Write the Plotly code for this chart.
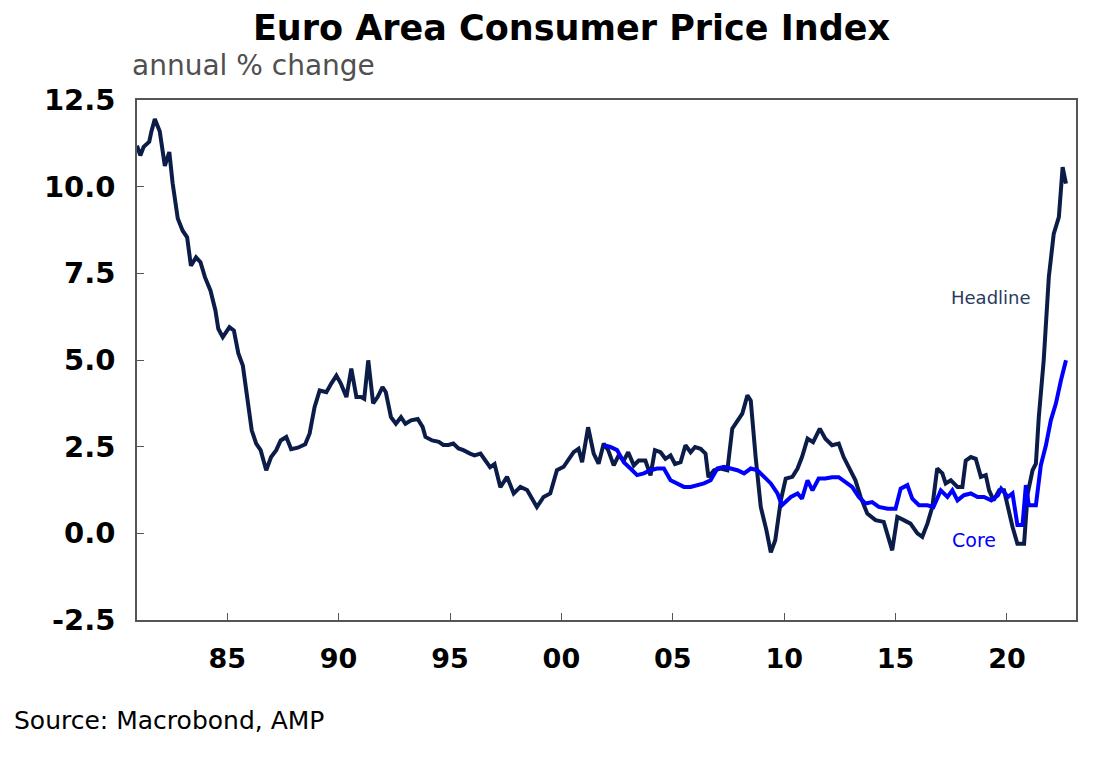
import plotly.graph_objects as go

# Euro area CPI, annual % change
head_t = [1980.95, 1981.1, 1981.25, 1981.5, 1981.6, 1981.75, 1981.97, 1982.2, 1982.4, 1982.55,
          1982.78, 1983.0, 1983.2, 1983.37, 1983.6, 1983.8, 1984.0, 1984.25, 1984.47, 1984.6,
          1984.8, 1985.1, 1985.3, 1985.5, 1985.7, 1985.95, 1986.1, 1986.3, 1986.5, 1986.75,
          1986.97, 1987.2, 1987.4, 1987.65, 1987.87, 1988.17, 1988.5, 1988.7, 1988.92, 1989.15,
          1989.45, 1989.67, 1989.9, 1990.1, 1990.35, 1990.57, 1990.8, 1991.0, 1991.15, 1991.33,
          1991.55, 1991.75, 1991.97, 1992.12, 1992.35, 1992.57, 1992.8, 1993.0, 1993.25, 1993.55,
          1993.77, 1993.9, 1994.2, 1994.5, 1994.7, 1994.93, 1995.15, 1995.38, 1995.6, 1995.9,
          1996.1, 1996.37, 1996.8, 1997.0, 1997.26, 1997.56, 1997.86, 1998.16, 1998.46, 1998.9,
          1999.2, 1999.5, 1999.8, 2000.1, 2000.3, 2000.55, 2000.77, 2000.93, 2001.2, 2001.45,
          2001.67, 2001.9, 2002.1, 2002.35, 2002.57, 2002.8, 2003.0, 2003.25, 2003.47, 2003.77,
          2004.0, 2004.2, 2004.45, 2004.67, 2004.9, 2005.1, 2005.35, 2005.57, 2005.8, 2006.0,
          2006.25, 2006.47, 2006.6, 2006.85, 2007.15, 2007.45, 2007.67, 2007.9, 2008.12, 2008.35,
          2008.5, 2008.72, 2008.95, 2009.2, 2009.4, 2009.6, 2009.85, 2010.07, 2010.37, 2010.6,
          2010.8, 2011.05, 2011.3, 2011.6, 2011.85, 2012.15, 2012.45, 2012.67, 2012.9, 2013.2,
          2013.43, 2013.73, 2014.1, 2014.47, 2014.85, 2015.08, 2015.37, 2015.67, 2015.98, 2016.2,
          2016.43, 2016.65, 2016.87, 2017.1, 2017.25, 2017.48, 2017.78, 2018.0, 2018.15, 2018.38,
          2018.6, 2018.83, 2019.05, 2019.2, 2019.4, 2019.65, 2019.87, 2020.1, 2020.25, 2020.47,
          2020.77, 2020.93, 2021.15, 2021.3, 2021.43, 2021.65, 2021.88, 2022.1, 2022.33, 2022.5,
          2022.65]
head_v = [11.18, 10.9, 11.15, 11.3, 11.6, 11.95, 11.6, 10.6, 11.0, 10.1,
          9.08, 8.73, 8.54, 7.72, 7.96, 7.82, 7.39, 7.0, 6.43, 5.9,
          5.66, 5.95, 5.85, 5.19, 4.84, 3.75, 2.97, 2.59, 2.4, 1.82,
          2.2, 2.4, 2.68, 2.78, 2.43, 2.47, 2.57, 2.88, 3.64, 4.12,
          4.07, 4.32, 4.55, 4.32, 3.93, 4.75, 3.93, 3.93, 3.88, 4.99,
          3.75, 3.93, 4.22, 4.07, 3.35, 3.16, 3.35, 3.16, 3.26, 3.3,
          3.07, 2.78, 2.68, 2.64, 2.55, 2.55, 2.59, 2.45, 2.4, 2.3,
          2.25, 2.3, 1.91, 2.0, 1.33, 1.63, 1.15, 1.34, 1.25, 0.76,
          1.05, 1.15, 1.82, 1.92, 2.1, 2.34, 2.44, 2.05, 3.06, 2.3,
          2.01, 2.59, 2.4, 1.96, 2.25, 2.1, 2.34, 1.96, 2.1, 2.1,
          1.67, 2.4, 2.34, 2.15, 2.25, 2.0, 2.05, 2.54, 2.34, 2.49,
          2.44, 2.3, 1.62, 1.82, 1.87, 1.82, 3.02, 3.26, 3.45, 3.98,
          3.83, 2.2, 0.76, 0.1, -0.55, -0.2, 0.95, 1.58, 1.63, 1.87,
          2.2, 2.73, 2.63, 3.02, 2.73, 2.54, 2.59, 2.2, 1.91, 1.53,
          1.05, 0.57, 0.38, 0.33, -0.49, 0.47, 0.38, 0.28, 0.0, -0.1,
          0.28, 0.76, 1.87, 1.73, 1.44, 1.53, 1.34, 1.34, 2.1, 2.2,
          2.15, 1.63, 1.68, 1.24, 0.95, 1.24, 1.24, 0.57, 0.19, -0.3,
          -0.3, 1.15, 1.82, 2.01, 3.35, 4.99, 7.39, 8.64, 9.12, 10.56,
          10.09]

core_t = [2001.9, 2002.2, 2002.5, 2002.8, 2003.1, 2003.4, 2003.7, 2004.0, 2004.3, 2004.6,
          2004.9, 2005.2, 2005.5, 2005.8, 2006.1, 2006.4, 2006.7, 2007.0, 2007.3, 2007.6,
          2007.9, 2008.2, 2008.5, 2008.8, 2009.1, 2009.4, 2009.7, 2009.9, 2010.3, 2010.6,
          2010.8, 2011.05, 2011.27, 2011.55, 2011.85, 2012.15, 2012.45, 2012.75, 2013.05, 2013.35,
          2013.65, 2013.95, 2014.25, 2014.65, 2015.0, 2015.23, 2015.53, 2015.75, 2016.05, 2016.43,
          2016.7, 2017.03, 2017.33, 2017.55, 2017.78, 2018.07, 2018.38, 2018.68, 2018.97, 2019.3,
          2019.6, 2019.74, 2020.05, 2020.25, 2020.47, 2020.7, 2020.85, 2020.98, 2021.3, 2021.52,
          2021.75, 2021.97, 2022.2, 2022.42, 2022.65]
core_v = [2.54, 2.49, 2.4, 2.05, 1.87, 1.68, 1.73, 1.82, 1.87, 1.87,
          1.53, 1.44, 1.34, 1.34, 1.39, 1.44, 1.53, 1.87, 1.92, 1.87,
          1.82, 1.73, 1.87, 1.82, 1.63, 1.44, 1.15, 0.81, 1.05, 1.15,
          1.0, 1.53, 1.24, 1.58, 1.58, 1.62, 1.62, 1.48, 1.34, 1.05,
          0.86, 0.9, 0.76, 0.71, 0.71, 1.29, 1.39, 1.0, 0.81, 0.81,
          0.76, 1.24, 1.05, 1.24, 0.95, 1.1, 1.15, 1.05, 1.05, 0.95,
          1.1, 1.29, 1.05, 1.15, 0.24, 0.24, 1.39, 0.81, 0.81, 1.96,
          2.54, 3.26, 3.75, 4.4, 4.99]

x_ticks = [1985, 1990, 1995, 2000, 2005, 2010, 2015, 2020]
x_labels = ["85", "90", "95", "00", "05", "10", "15", "20"]
y_ticks = [-2.5, 0.0, 2.5, 5.0, 7.5, 10.0, 12.5]
y_labels = ["-2.5", "0.0", "2.5", "5.0", "7.5", "10.0", "12.5"]

navy = "#0c1c48"
blue = "#0000ff"
FONT = "DejaVu Sans"

fig = go.Figure()
fig.add_trace(go.Scatter(x=head_t, y=head_v, mode="lines", line=dict(color=navy, width=4)))
fig.add_trace(go.Scatter(x=core_t, y=core_v, mode="lines", line=dict(color=blue, width=4)))

# page body adds 8px, so margins are offset to land the plot at 137..1076 x 100..620
fig.update_layout(
    width=1107, height=757, showlegend=False,
    paper_bgcolor="white", plot_bgcolor="white",
    margin=dict(l=129, r=39, t=92, b=145, autoexpand=False),
    font=dict(family=FONT, color="black"),
    title=dict(text="<b>Euro Area Consumer Price Index</b>", x=0.509, xanchor="center",
               y=0.9736, yanchor="middle", font=dict(size=35, color="black")),
)
fig.update_xaxes(range=[1980.95, 2023.1], tickvals=x_ticks, ticktext=["<b>%s</b>" % s for s in x_labels],
                 ticks="inside", ticklen=7, tickcolor="#555", showgrid=False, automargin=False,
                 showline=True, linecolor="#555", linewidth=1.5, mirror=True,
                 tickfont=dict(size=27, color="black"), ticklabelstandoff=14)
fig.update_yaxes(range=[-2.5, 12.5], tickvals=y_ticks, ticktext=["<b>%s</b>" % s for s in y_labels],
                 ticks="inside", ticklen=7, tickcolor="#555", showgrid=False, zeroline=False,
                 showline=True, linecolor="#555", linewidth=1.5, mirror=True, automargin=False,
                 tickfont=dict(size=29, color="black"), ticklabelstandoff=14)

fig.add_annotation(text="annual % change", x=0, y=1, xref="paper", yref="paper",
                   xshift=-7, yshift=35, showarrow=False, xanchor="left", yanchor="middle",
                   font=dict(size=28, color="#505050"))
fig.add_annotation(text="Headline", x=2021.16, y=6.8, xref="x", yref="y", showarrow=False,
                   xanchor="right", font=dict(size=18, color="#2a3a5e"))
fig.add_annotation(text="Core", x=2019.6, y=-0.2, xref="x", yref="y", showarrow=False,
                   xanchor="right", font=dict(size=19, color=blue))
fig.add_annotation(text="Source: Macrobond, AMP", x=0, y=0, xref="paper", yref="paper",
                   xshift=-125, yshift=-100, showarrow=False, xanchor="left", yanchor="middle",
                   font=dict(size=25, color="black"))

fig.write_html("out.html")
